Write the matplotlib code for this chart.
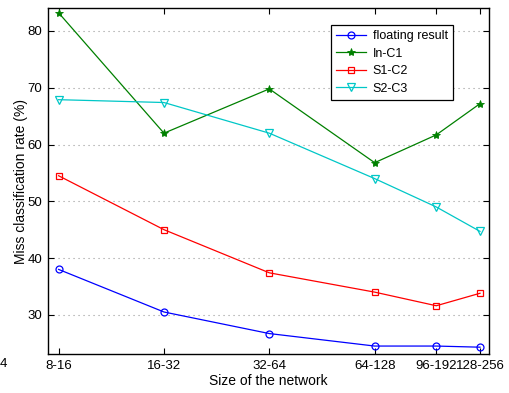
import matplotlib
matplotlib.use('Agg')
from matplotlib import pyplot as plt

plt.rcParams['font.family'] = ['Liberation Sans', 'DejaVu Sans']

# network sizes (lower bound used for the log2 position)
sizes = ['8-16', '16-32', '32-64', '64-128', '96-192', '128-256']
lower = [8, 16, 32, 64, 96, 128]

floating = [38.0, 30.5, 26.7, 24.5, 24.5, 24.3]
in_c1 = [83.2, 62.0, 69.8, 56.8, 61.7, 67.2]
s1_c2 = [54.5, 45.0, 37.4, 34.0, 31.6, 33.8]
s2_c3 = [67.9, 67.4, 62.0, 54.0, 49.0, 44.7]

fig = plt.figure(figsize=(5.09, 3.93), dpi=100)
ax = fig.add_axes([48/509, 1 - 354/393, 441/509, 346/393])

ax.plot(lower, floating, '-o', color='b', lw=0.9, ms=5, mfc='none', mew=0.9,
        label='floating result')
ax.plot(lower, in_c1, '-*', color=(0, 0.5, 0), lw=0.9, ms=6, mew=0.6,
        label='In-C1')
ax.plot(lower, s1_c2, '-s', color='r', lw=0.9, ms=4.5, mfc='none', mew=0.9,
        label='S1-C2')
ax.plot(lower, s2_c3, '-v', color=(0, 0.78, 0.78), lw=0.9, ms=5.5, mfc='none',
        mew=0.9, label='S2-C3')

ax.set_xscale('log', base=2)
ax.set_xlim(7.46, 135.8)
ax.set_ylim(23.1, 84.05)
ax.set_xticks(lower)
ax.set_xticklabels(sizes)
ax.minorticks_off()
ax.set_yticks([30, 40, 50, 60, 70, 80])

ax.yaxis.grid(True, linestyle=(0, (1, 3.5)), color='#999999', lw=0.8)
ax.set_axisbelow(True)
ax.tick_params(direction='in', top=True, right=True, labelsize=9.5,
               length=4, width=0.8, pad=4)
for s in ax.spines.values():
    s.set_linewidth(1.0)

ax.set_xlabel('Size of the network', fontsize=10, labelpad=2)
ax.set_ylabel('Miss classification rate (%)', fontsize=10, labelpad=0)

leg = ax.legend(loc='upper right', bbox_to_anchor=(0.918, 0.951),
                borderaxespad=0, fontsize=9, fancybox=False, framealpha=1,
                edgecolor='black', handlelength=2.4, handletextpad=0.5,
                labelspacing=0.45, borderpad=0.4)
leg.get_frame().set_linewidth(0.9)

# stray tick label at the far left edge
fig.text(3.5/509, 1 - 364/393, '4', fontsize=9.5, ha='center', va='center')

fig.savefig('out.png', dpi=100)
